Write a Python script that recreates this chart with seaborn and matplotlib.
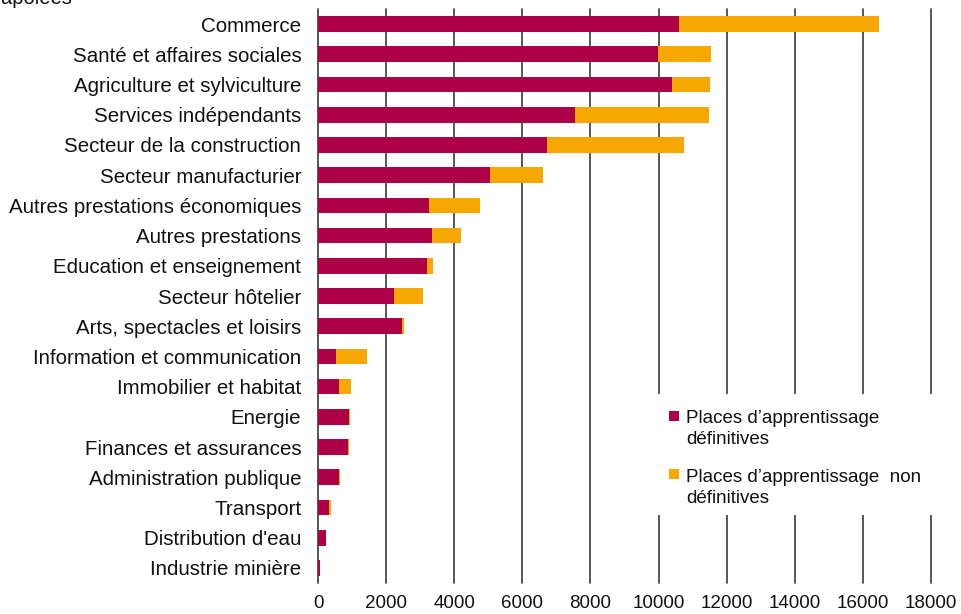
import seaborn as sns
import matplotlib.pyplot as plt
from matplotlib.patches import Rectangle

# data
branches = ["Commerce", "Santé et affaires sociales", "Agriculture et sylviculture",
            "Services indépendants", "Secteur de la construction", "Secteur manufacturier",
            "Autres prestations économiques", "Autres prestations", "Education et enseignement",
            "Secteur hôtelier", "Arts, spectacles et loisirs", "Information et communication",
            "Immobilier et habitat", "Energie", "Finances et assurances",
            "Administration publique", "Transport", "Distribution d'eau", "Industrie minière"]
definitives = [10590, 9990, 10400, 7540, 6730, 5050, 3270, 3340, 3200,
               2240, 2480, 530, 630, 920, 890, 630, 330, 235, 50]
non_definitives = [5880, 1560, 1100, 3950, 4010, 1570, 1500, 850, 180,
                   830, 40, 900, 340, 30, 30, 30, 40, 10, 10]
totals = [d + n for d, n in zip(definitives, non_definitives)]
xticks = list(range(0, 18001, 2000))

maroon = "#AE0046"
orange = "#F6A800"

sns.set_theme(style="white")
plt.rcParams["font.family"] = ["Liberation Sans", "DejaVu Sans"]

fig = plt.figure(figsize=(9.61, 6.14), dpi=100)
ax = fig.add_axes([318 / 961, 1 - 583 / 614, 613 / 961, 574 / 614])

sns.barplot(x=totals, y=branches, color=orange, saturation=1, width=0.52,
            orient="h", ax=ax, linewidth=0)
sns.barplot(x=definitives, y=branches, color=maroon, saturation=1, width=0.52,
            orient="h", ax=ax, linewidth=0)

ax.set_xlim(0, 18000)
ax.set_xticks(xticks)
ax.set_xticklabels([str(t) for t in xticks], fontsize=13.5, color="#111111")
ax.tick_params(axis="y", labelsize=14.8, length=0, pad=12, labelcolor="#111111")
ax.tick_params(axis="x", length=0, pad=9)
ax.set_xlabel("")
ax.set_ylabel("")
ax.grid(axis="x", color="#3a3a3a", linewidth=1.2)
ax.set_axisbelow(True)
for g in ax.get_xgridlines():
    g.set_clip_on(False)
sns.despine(ax=ax, left=True, bottom=True)

# legend drawn by hand: white box over the grid, square keys aligned with first line
ax.add_patch(Rectangle((0.542, 0.118), 0.465, 0.211, transform=ax.transAxes,
                       facecolor="white", edgecolor="none", zorder=5, clip_on=False))
legend_items = [(maroon, "Places d’apprentissage\ndéfinitives", 0.282, 0.302),
                (orange, "Places d’apprentissage  non\ndéfinitives", 0.181, 0.199)]
for col, lab, ky, ty in legend_items:
    ax.add_patch(Rectangle((0.573, ky), 0.0163, 0.0174, transform=ax.transAxes,
                           facecolor=col, edgecolor="none", zorder=6, clip_on=False))
    ax.text(0.600, ty, lab, transform=ax.transAxes, fontsize=13.5, va="top",
            ha="left", linespacing=1.3, color="#111111", zorder=7)

fig.text(0.075, 1 - 4 / 614, "Données extrapolées", ha="right", va="baseline",
         fontsize=14.5, color="#111111")

fig.savefig("out.png", dpi=100)
